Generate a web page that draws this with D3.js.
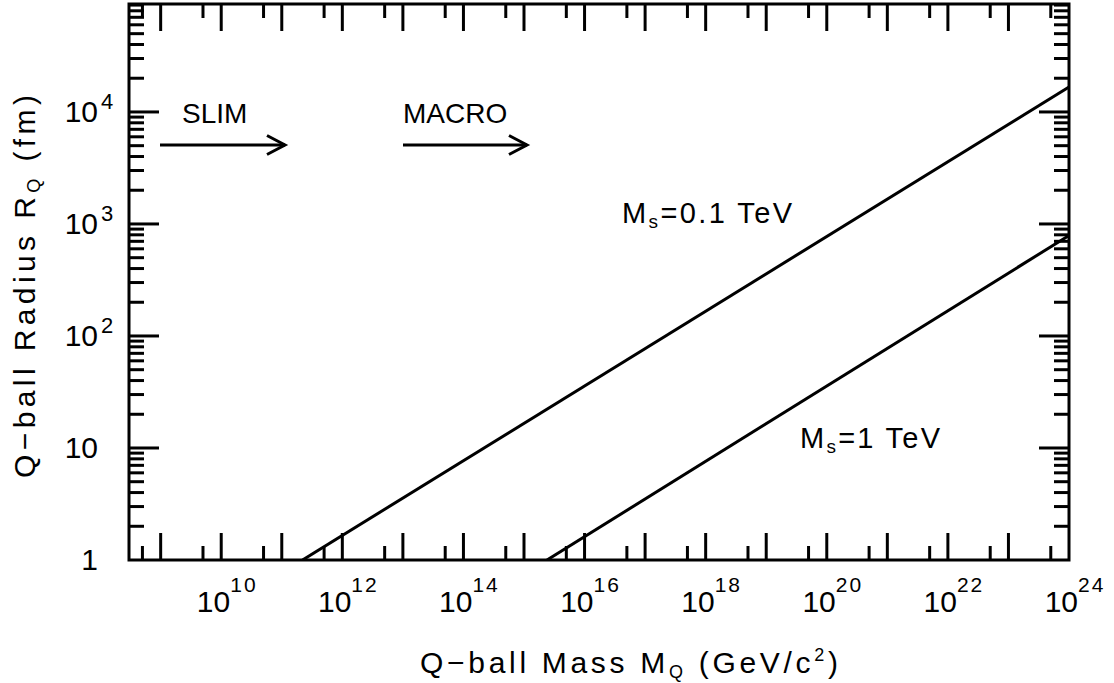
<!DOCTYPE html>
<html>
<head>
<meta charset="utf-8">
<script src="https://cdn.jsdelivr.net/npm/d3@7"></script>
<style>
  body { margin: 0; background: #fff; }
  text { font-family: "Liberation Sans", Arial, sans-serif; fill: #000; }
</style>
</head>
<body>
<div id="chartContainer"></div>
<script>
// Q-ball radius vs mass, two lines (R ~ M^(1/3))
const seriesNames = ["Ms=0.1 TeV", "Ms=1 TeV"];
const massLow = [2.2e11, 1e24];
const radiusLow = [1, 1.67e4];
const massHigh = [2.4e15, 1e24];
const radiusHigh = [1, 790];

const xTickExps = [10, 12, 14, 16, 18, 20, 22, 24];
const yTickLabels = [
  { v: 1, base: "1", sup: "" },
  { v: 10, base: "10", sup: "" },
  { v: 100, base: "10", sup: "2" },
  { v: 1000, base: "10", sup: "3" },
  { v: 10000, base: "10", sup: "4" }
];

function pageLoaded() {
  const w = 1114;
  const h = 683;
  const margins = { top: 4, left: 129, bottom: 123, right: 45 };
  const innerWidth = w - margins.left - margins.right;
  const innerHeight = h - margins.top - margins.bottom;

  const xScale = d3.scaleLog().domain([3e8, 1e24]).range([0, innerWidth]);
  const yScale = d3.scaleLog().domain([1, 9.2e4]).range([innerHeight, 0]);

  const svg = d3
    .select("#chartContainer")
    .append("svg")
    .attr("width", w)
    .attr("height", h);

  const mainG = svg
    .append("g")
    .attr("transform", `translate(${margins.left}, ${margins.top})`);

  // tick positions
  const xMajor = d3.range(9, 24).map((e) => Math.pow(10, e));
  const xMinor = d3.range(8, 24).map((e) => 5 * Math.pow(10, e));
  const yMajor = [10, 100, 1000, 10000];
  const yMinor = [];
  for (let e = 0; e <= 4; e++) {
    for (let m = 2; m <= 9; m++) yMinor.push(m * Math.pow(10, e));
  }

  const tickStroke = 3;

  // bottom & top ticks
  [
    { vals: xMajor, len: 27 },
    { vals: xMinor, len: 14 }
  ].forEach((t) => {
    mainG
      .append("g")
      .selectAll("line")
      .data(t.vals)
      .enter()
      .append("line")
      .attr("x1", (d) => xScale(d))
      .attr("x2", (d) => xScale(d))
      .attr("y1", innerHeight)
      .attr("y2", innerHeight - t.len)
      .attr("stroke", "#000")
      .attr("stroke-width", tickStroke);
    mainG
      .append("g")
      .selectAll("line")
      .data(t.vals)
      .enter()
      .append("line")
      .attr("x1", (d) => xScale(d))
      .attr("x2", (d) => xScale(d))
      .attr("y1", 0)
      .attr("y2", t.len)
      .attr("stroke", "#000")
      .attr("stroke-width", tickStroke);
  });

  // left & right ticks
  [
    { vals: yMajor, len: 30 },
    { vals: yMinor.filter((v) => v <= 9.2e4), len: 15 }
  ].forEach((t) => {
    mainG
      .append("g")
      .selectAll("line")
      .data(t.vals)
      .enter()
      .append("line")
      .attr("x1", 0)
      .attr("x2", t.len)
      .attr("y1", (d) => yScale(d))
      .attr("y2", (d) => yScale(d))
      .attr("stroke", "#000")
      .attr("stroke-width", tickStroke);
    mainG
      .append("g")
      .selectAll("line")
      .data(t.vals)
      .enter()
      .append("line")
      .attr("x1", innerWidth)
      .attr("x2", innerWidth - t.len)
      .attr("y1", (d) => yScale(d))
      .attr("y2", (d) => yScale(d))
      .attr("stroke", "#000")
      .attr("stroke-width", tickStroke);
  });

  // frame
  mainG
    .append("rect")
    .attr("x", 0)
    .attr("y", 0)
    .attr("width", innerWidth)
    .attr("height", innerHeight)
    .attr("fill", "none")
    .attr("stroke", "#000")
    .attr("stroke-width", 3);

  // lines
  mainG
    .append("clipPath")
    .attr("id", "clip")
    .append("rect")
    .attr("width", innerWidth)
    .attr("height", innerHeight);

  const lineGen = d3
    .line()
    .x((d) => xScale(d[0]))
    .y((d) => yScale(d[1]));

  const lines = [
    d3.zip(massLow, radiusLow),
    d3.zip(massHigh, radiusHigh)
  ];
  mainG
    .append("g")
    .attr("clip-path", "url(#clip)")
    .selectAll("path")
    .data(lines)
    .enter()
    .append("path")
    .attr("d", lineGen)
    .attr("fill", "none")
    .attr("stroke", "#000")
    .attr("stroke-width", 3);

  // x tick labels
  const xl = mainG
    .append("g")
    .selectAll("text")
    .data(xTickExps)
    .enter()
    .append("text")
    .attr("x", (d) => xScale(Math.pow(10, d)) + 6)
    .attr("y", innerHeight + 52)
    .attr("text-anchor", "middle")
    .attr("font-size", 30);
  xl.append("tspan").text("10");
  xl.append("tspan")
    .attr("dy", -20)
    .attr("font-size", 21)
    .attr("letter-spacing", 2)
    .text((d) => d);

  // y tick labels
  const yl = mainG.append("g");
  yTickLabels.forEach((t) => {
    const y = yScale(t.v);
    yl.append("text")
      .attr("x", 98 - margins.left)
      .attr("y", y + 10)
      .attr("text-anchor", "end")
      .attr("font-size", 30)
      .text(t.base);
    if (t.sup) {
      yl.append("text")
        .attr("x", 101 - margins.left)
        .attr("y", y - 3)
        .attr("font-size", 22)
        .text(t.sup);
    }
  });

  // axis titles
  const xt = svg
    .append("text")
    .attr("x", 420)
    .attr("y", 673)
    .attr("font-size", 30)
    .attr("textLength", 418)
    .attr("lengthAdjust", "spacing");
  xt.append("tspan").text("Q\u2212ball Mass M");
  xt.append("tspan").attr("font-size", 18).attr("dy", 5).text("Q");
  xt.append("tspan").attr("dy", -5).text(" (GeV/c");
  xt.append("tspan").attr("font-size", 18).attr("dy", -12).text("2");
  xt.append("tspan").attr("dy", 12).text(")");

  const yt = svg
    .append("text")
    .attr("transform", "translate(35, 478) rotate(-90)")
    .attr("x", 0)
    .attr("y", 0)
    .attr("font-size", 30)
    .attr("textLength", 383)
    .attr("lengthAdjust", "spacing");
  yt.append("tspan").text("Q\u2212ball Radius R");
  yt.append("tspan").attr("font-size", 18).attr("dy", 5).text("Q");
  yt.append("tspan").attr("dy", -5).text(" (fm)");

  // annotations
  svg.append("text").attr("x", 182).attr("y", 123).attr("font-size", 28).text("SLIM");
  svg.append("text").attr("x", 403).attr("y", 123).attr("font-size", 28).text("MACRO");

  const arrows = [
    [160, 285],
    [403, 527]
  ];
  arrows.forEach((a) => {
    const ay = 145;
    svg.append("line")
      .attr("x1", a[0]).attr("x2", a[1])
      .attr("y1", ay).attr("y2", ay)
      .attr("stroke", "#000").attr("stroke-width", 3);
    svg.append("path")
      .attr("d", `M${a[1] - 18},${ay - 9.5}L${a[1]},${ay}L${a[1] - 18},${ay + 9.5}`)
      .attr("fill", "none")
      .attr("stroke", "#000")
      .attr("stroke-width", 3);
  });

  function msLabel(x, y, len, val) {
    const t = svg.append("text")
      .attr("x", x).attr("y", y)
      .attr("font-size", 29)
      .attr("textLength", len)
      .attr("lengthAdjust", "spacing");
    t.append("tspan").text("M");
    t.append("tspan").attr("font-size", 19).attr("dy", 5).text("s");
    t.append("tspan").attr("dy", -5).text("=" + val + " TeV");
  }
  msLabel(622, 223, 170, "0.1");
  msLabel(800, 448, 140, "1");
}

window.addEventListener("load", pageLoaded);
</script>
</body>
</html>
